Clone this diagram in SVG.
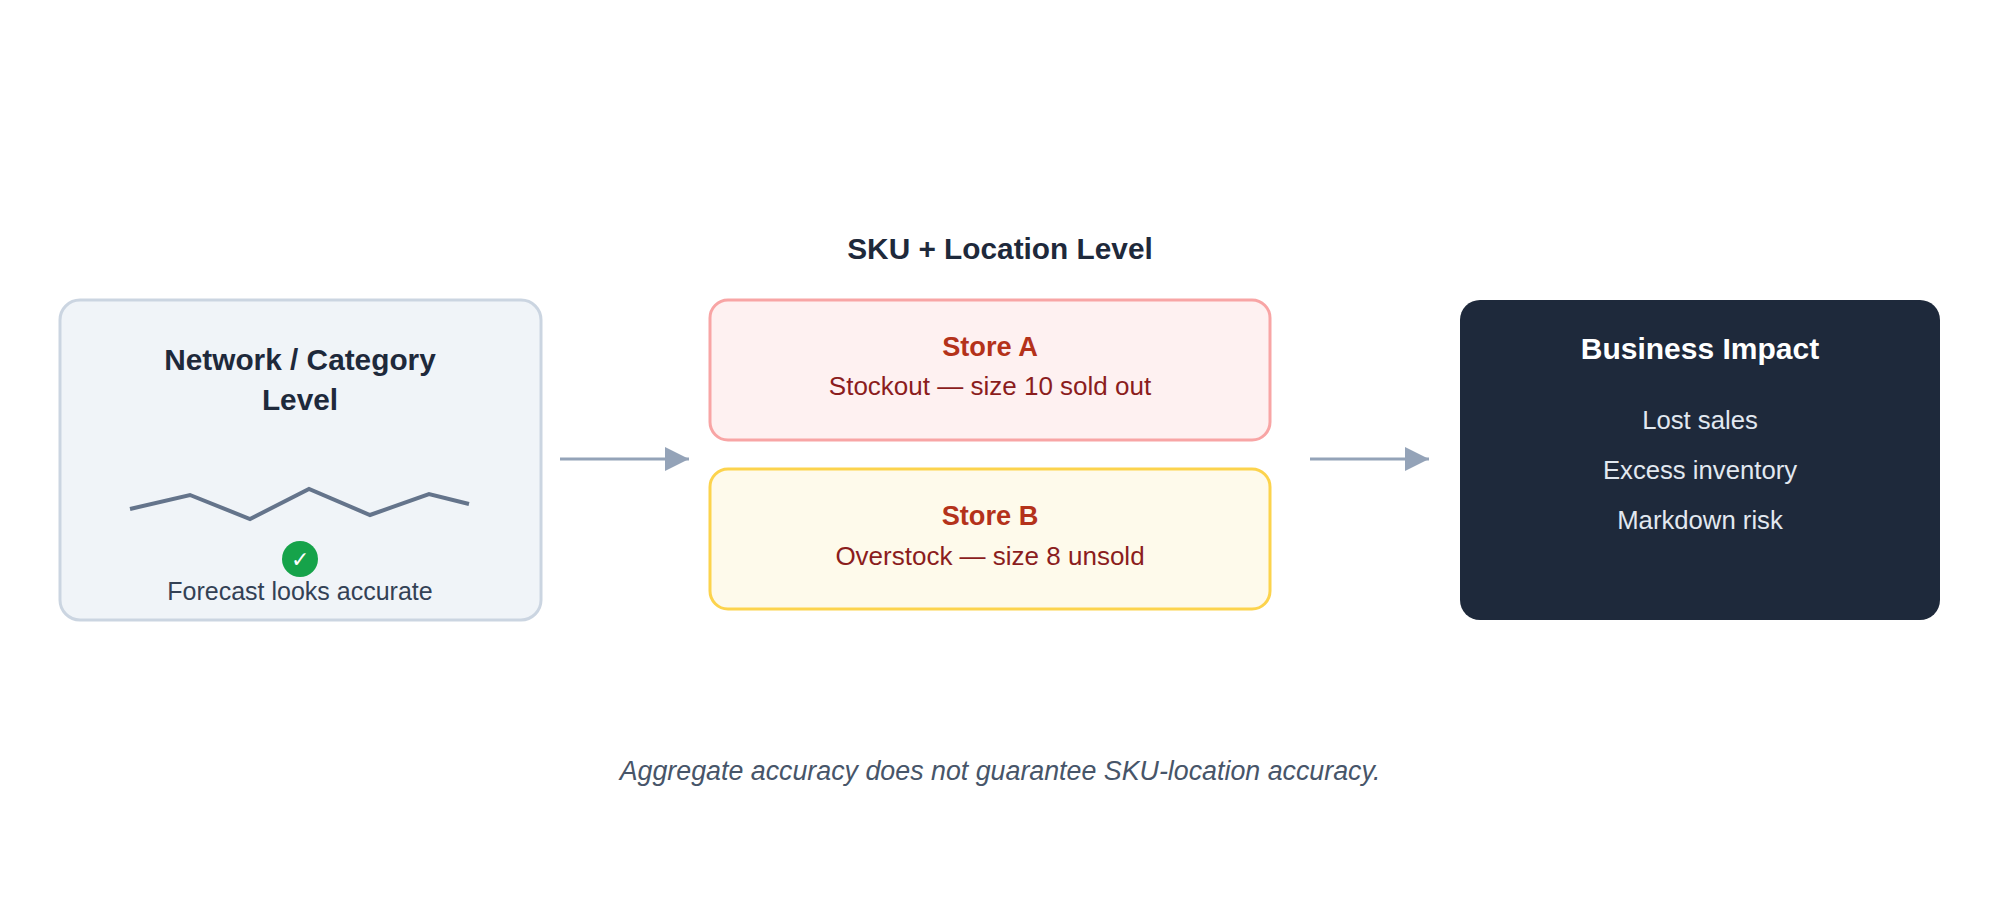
<svg xmlns="http://www.w3.org/2000/svg" width="2000" height="920" viewBox="0 0 2000 920">
<style>
text{font-family:"Liberation Sans",Arial,sans-serif;text-anchor:middle}
.t{font-weight:bold;font-size:29.8px;fill:#1e293b}
.s{font-weight:bold;font-size:27.2px;fill:#b4321a}
.b{font-size:25.7px}
.c{stroke:#94a3b8;stroke-width:3;fill:none}
</style>
<defs>
<marker id="a" viewBox="0 0 10 10" refX="10" refY="5" markerWidth="24" markerHeight="24" markerUnits="userSpaceOnUse" orient="auto"><path d="M0,0 L10,5 L0,10 z" fill="#94a3b8"/></marker></defs>
<rect width="2000" height="920" fill="#fff"/>
<text class="t" x="1000" y="259">SKU + Location Level</text>
<g id="network">
<rect x="60" y="300" width="481" height="320" rx="20" fill="#f0f4f8" stroke="#cbd5e1" stroke-width="3"/>
<text class="t" x="300" y="370">Network / Category</text>
<text class="t" x="300" y="410">Level</text>
<polyline points="130,509 190,495 250,519 309,489 370,515 429,494 469,504" fill="none" stroke="#64748b" stroke-width="4"/>
<circle cx="300" cy="559" r="18" fill="#16a34a"/>
<text x="300" y="567" font-size="22" fill="#fff">✓</text>
<text x="300" y="600" font-size="25" fill="#334155">Forecast looks accurate</text>
</g>
<g id="storeA">
<rect x="710" y="300" width="560" height="140" rx="18" fill="#fef1f1" stroke="#f8a5a5" stroke-width="3"/>
<text class="s" x="990" y="356">Store A</text>
<text x="990" y="395" font-size="26" fill="#8b1d1d">Stockout — size 10 sold out</text>
</g>
<g id="storeB">
<rect x="710" y="469" width="560" height="140" rx="18" fill="#fefaeb" stroke="#fcd34d" stroke-width="3"/>
<text class="s" x="990" y="525">Store B</text>
<text x="990" y="565" font-size="26" fill="#8b1d1d">Overstock — size 8 unsold</text>
</g>
<g id="impact">
<rect x="1460" y="300" width="480" height="320" rx="20" fill="#1e293b"/>
<text class="t" x="1700" y="359" style="fill:#fff;font-size:30px">Business Impact</text>
<text class="b" x="1700" y="429" fill="#e2e8f0">Lost sales</text>
<text class="b" x="1700" y="479" fill="#e2e8f0">Excess inventory</text>
<text class="b" x="1700" y="529" fill="#e2e8f0">Markdown risk</text>
</g>
<g id="connectors">
<line class="c" x1="560" y1="459" x2="689" y2="459" marker-end="url(#a)"/>
<line class="c" x1="1310" y1="459" x2="1429" y2="459" marker-end="url(#a)"/>
</g>
<text x="1000" y="780" font-size="26.8" font-style="italic" fill="#475569">Aggregate accuracy does not guarantee SKU-location accuracy.</text>
</svg>
